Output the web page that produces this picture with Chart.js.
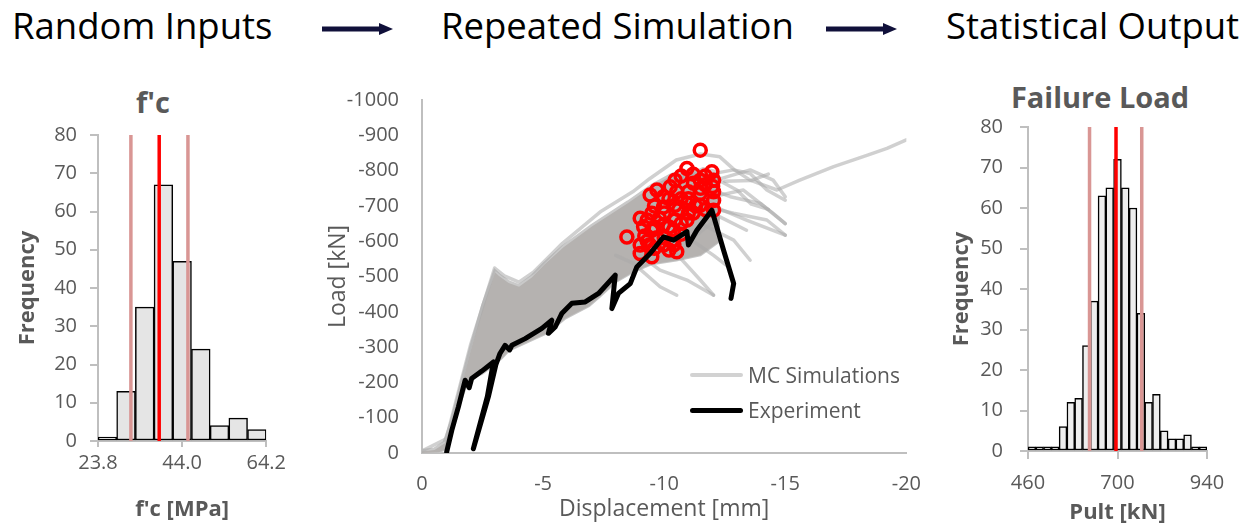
<!DOCTYPE html>
<html>
<head>
<meta charset="utf-8">
<title>Monte Carlo simulation of failure load</title>
<script src="https://cdn.jsdelivr.net/npm/chart.js@4.4.1/dist/chart.umd.min.js"></script>
<style>
    body { margin: 0; background: #fff; font-family: 'Open Sans', sans-serif; }
    #page { position: relative; width: 1257px; height: 527px; overflow: hidden; }
    canvas { position: absolute; }
    .step { position: absolute; top: 7px; font-size: 36.5px; line-height: 1; color: #000; white-space: nowrap; }
    .arrow { position: absolute; top: 22px; }
    .panel-title { position: absolute; font-size: 29px; font-weight: bold; line-height: 1; color: #595959; white-space: nowrap; transform: translateX(-50%); }
    .legend-item { position: absolute; left: 690px; height: 26px; display: flex; align-items: center; font-size: 21px; color: #595959; white-space: nowrap; }
    .legend-item .swatch { display: inline-block; width: 53px; margin-right: 5px; border-radius: 3px; }
</style>
</head>
<body>
<div id="page">
    <div class="step" style="left: 12px;">Random Inputs</div>
    <svg class="arrow" style="left: 322px;" width="72" height="14"><rect x="0" y="4.5" width="59" height="5" fill="#10103a"/><polygon points="57,1 71,7 57,13" fill="#10103a"/></svg>
    <div class="step" style="left: 441px;">Repeated Simulation</div>
    <svg class="arrow" style="left: 826px;" width="72" height="14"><rect x="0" y="4.5" width="59" height="5" fill="#10103a"/><polygon points="57,1 71,7 57,13" fill="#10103a"/></svg>
    <div class="step" style="left: 946px;">Statistical Output</div>

    <div class="panel-title" style="left: 153px; top: 87px;">f'c</div>
    <div class="panel-title" style="left: 1100px; top: 82px;">Failure Load</div>

    <canvas id="chart_fc" width="290" height="417" style="left: 0; top: 110px;"></canvas>
    <canvas id="chart_sim" width="630" height="462" style="left: 310px; top: 65px;"></canvas>
    <canvas id="chart_pult" width="317" height="429" style="left: 940px; top: 98px;"></canvas>

    <div class="legend-item" style="top: 362px;"><span class="swatch" style="height: 4px; background: #d2d2d2;"></span>MC Simulations</div>
    <div class="legend-item" style="top: 397px;"><span class="swatch" style="height: 5px; background: #000;"></span>Experiment</div>
</div>
<script>
// concrete strength histogram (200 samples)
const fcBinCenters = [26.04, 30.53, 35.02, 39.51, 44.0, 48.49, 52.98, 57.47, 61.96];
const fcCounts = [1, 13, 35, 67, 47, 24, 4, 6, 3];
const fcTicks = [23.8, 44.0, 64.2];
const fcMean = 38.5;
const fcSpread = [31.7, 45.4];

// ultimate load histogram (500 runs)
const pultBinCenters = [470.4, 491.3, 512.2, 533.0, 553.9, 574.8, 595.7, 616.5, 637.4, 658.3, 679.1, 700.0,
    720.9, 741.7, 762.6, 783.5, 804.3, 825.2, 846.1, 867.0, 887.8, 908.7, 929.6];
const pultCounts = [1, 1, 1, 1, 6, 12, 13, 26, 37, 63, 65, 72, 65, 60, 34, 12, 14, 5, 3, 3, 4, 1, 1];
const pultTicks = [460, 700, 940];
const pultMean = 696;
const pultSpread = [625, 765];

// load-displacement curves [displacement mm, load kN]
const dispTicks = [0, -5, -10, -15, -20];
const mcUpper = [[0, -8], [-0.5, -12], [-0.9, -30], [-1.2, -90], [-1.6, -195], [-2.0, -300], [-2.5, -420],
    [-3.0, -518], [-3.2, -505], [-3.6, -485], [-4.0, -475], [-4.5, -500], [-5.0, -535], [-5.8, -585],
    [-7.0, -645], [-8.5, -712], [-9.5, -760], [-10.3, -790], [-11.0, -800], [-12.3, -790]];
const mcLower = [[0, 0], [-0.7, -2], [-0.95, -10], [-1.16, -36], [-1.57, -140], [-1.91, -206], [-2.5, -225],
    [-2.9, -245], [-3.3, -268], [-3.6, -290], [-4.3, -312], [-5.2, -340], [-5.9, -380], [-6.9, -416],
    [-7.3, -440], [-8.0, -484], [-8.7, -512], [-9.5, -535], [-10.5, -545], [-11.5, -560], [-12.3, -600]];
const mcTails = [
    [[0, -6], [-1.0, -40], [-2.0, -305], [-3.0, -524], [-3.4, -502], [-4.0, -484], [-4.6, -512], [-5.8, -594],
        [-7.4, -685], [-8.7, -740], [-9.4, -777], [-10.5, -830], [-11.5, -847], [-12.3, -839], [-12.9, -802],
        [-13.55, -773], [-14.66, -745], [-15.6, -773], [-17.0, -811], [-18.4, -844], [-19.2, -863], [-20.0, -887]],
    [[-10.5, -770], [-11.6, -805], [-12.3, -795], [-12.87, -802], [-13.55, -792], [-14.24, -745], [-15.0, -716]],
    [[-10.8, -705], [-12.0, -745], [-12.73, -726], [-13.97, -707], [-15.0, -650]],
    [[-11.0, -655], [-12.2, -690], [-12.87, -679], [-14.24, -660], [-15.0, -617]],
    [[-11.2, -760], [-12.2, -775], [-13.0, -745], [-13.6, -705], [-14.3, -690]],
    [[-12.0, -770], [-13.55, -802], [-14.5, -773], [-15.0, -726]],
    [[-11.6, -720], [-13.27, -745], [-14.5, -679], [-15.0, -650]],
    [[-12.0, -700], [-13.4, -660], [-15.0, -617]],
    [[-10.0, -620], [-11.2, -600], [-12.04, -560], [-12.6, -530]],
    [[-11.5, -650], [-12.87, -603], [-13.55, -546]],
    [[-10.5, -565], [-11.49, -490], [-12.04, -447]],
    [[-8.0, -560], [-8.73, -537], [-9.83, -471], [-10.52, -447]],
    [[-9.0, -560], [-9.83, -518], [-10.94, -490], [-12.04, -447]],
    [[-11.0, -600], [-12.3, -669], [-13.4, -631]],
    [[-12.5, -770], [-13.6, -772], [-14.3, -790]]
];
const experiment = [[-1.02, -3], [-1.23, -64], [-1.5, -130], [-1.78, -206], [-1.95, -185], [-2.05, -211],
    [-2.47, -232], [-2.95, -258], [-2.7, -160], [-2.12, -12], [-2.74, -159], [-3.05, -250], [-3.22, -282],
    [-3.43, -305], [-3.62, -292], [-3.71, -305], [-4.26, -324], [-4.95, -353], [-5.36, -376], [-5.22, -339],
    [-5.5, -357], [-5.77, -395], [-6.19, -424], [-6.74, -428], [-7.29, -452], [-7.98, -504], [-7.84, -409],
    [-8.11, -452], [-8.6, -480], [-8.87, -527], [-9.42, -565], [-9.97, -612], [-10.39, -603], [-10.94, -627],
    [-11.0, -589], [-11.35, -631], [-11.97, -688], [-12.45, -575], [-12.87, -480], [-12.76, -438]];
// peak load of each simulation
const peakDisp = [-11.49, -10.94, -11.97, -10.45, -11.49, -12.04, -9.42, -9.97, -10.52, -11.49, -12.04,
    -9.01, -9.49, -9.97, -10.45, -10.94, -11.49, -12.04, -8.46, -9.01, -9.49, -9.97, -10.45, -10.94,
    -9.01, -9.49, -10.52, -9.97, -9.15, -10.39, -9.8, -11.21, -10.25, -11.2, -12.0, -10.7, -11.2, -12.04,
    -10.0, -9.3, -10.7, -11.0, -10.0, -10.7, -11.7, -11.7, -10.7, -9.6, -9.3, -9.7, -10.2, -10.2, -9.6, -11.0,
    -9.7, -10.2, -11.0, -11.5, -10.6, -9.2, -9.6, -10.3, -10.4, -9.4, -11.3, -11.7];
const peakLoad = [-858, -806, -797, -773, -773, -773, -731, -726, -740, -735, -740,
    -665, -679, -697, -702, -707, -702, -688, -612, -589, -631, -646, -660, -660,
    -565, -556, -570, -589, -641, -631, -665, -764, -754, -790, -755, -720, -680, -715,
    -610, -600, -620, -740, -680, -650, -690, -760, -785, -700, -660, -610, -640, -575, -580, -680,
    -745, -720, -720, -750, -690, -615, -640, -600, -590, -590, -700, -785];

const axisGray = '#bfbfbf';

Chart.defaults.font.family = "'Open Sans', sans-serif";
Chart.defaults.color = '#595959';
Chart.defaults.animation = false;
Chart.defaults.events = [];
Chart.defaults.plugins.legend.display = false;
Chart.defaults.plugins.tooltip.enabled = false;

function toPoints(pairs) {
    return pairs.map(p => ({x: p[0], y: p[1]}));
}

function verticalLine(x, color) {
    return {
        type: 'line',
        data: [{x: x, y: 0}, {x: x, y: 80}],
        borderColor: color,
        borderWidth: 3.5,
        pointRadius: 0,
        order: 0
    };
}

function createHistogram(opts) {
    new Chart(document.getElementById(opts.id), {
        type: 'bar',
        data: {
            datasets: [
                {
                    data: opts.centers.map((c, i) => ({x: c, y: opts.counts[i]})),
                    backgroundColor: opts.fill,
                    borderColor: '#000',
                    borderWidth: 1.5,
                    borderSkipped: false,
                    barPercentage: 1,
                    categoryPercentage: 1,
                    order: 1
                },
                verticalLine(opts.spread[0], '#d99694'),
                verticalLine(opts.spread[1], '#d99694'),
                verticalLine(opts.mean, '#ff0000')
            ]
        },
        options: {
            responsive: false,
            layout: {padding: opts.padding},
            scales: {
                x: {
                    type: 'linear',
                    min: opts.ticks[0],
                    max: opts.ticks[opts.ticks.length - 1],
                    offset: false,
                    afterBuildTicks: axis => { axis.ticks = opts.ticks.map(v => ({value: v})); },
                    afterFit: axis => { axis.height = opts.xHeight; },
                    ticks: {
                        font: {size: 20},
                        padding: opts.xPad,
                        maxRotation: 0,
                        autoSkip: false,
                        callback: v => opts.format(v)
                    },
                    grid: {drawOnChartArea: false, offset: false, tickLength: opts.xTick, color: axisGray, lineWidth: 2},
                    border: {color: axisGray, width: 2},
                    title: {display: true, text: opts.xTitle, font: {size: 22, weight: 'bold'}, padding: {top: 0, bottom: opts.xTitlePad}}
                },
                y: {
                    min: 0,
                    max: 80,
                    afterFit: axis => { axis.width = opts.yWidth; },
                    ticks: {stepSize: 10, font: {size: 20}, padding: opts.yPad},
                    grid: {drawOnChartArea: false, tickLength: 8, color: axisGray, lineWidth: 2},
                    border: {color: axisGray, width: 2},
                    title: {display: true, text: 'Frequency', font: {size: 22, weight: 'bold'}, padding: {top: opts.yTitlePad, bottom: 0}}
                }
            }
        }
    });
}

createHistogram({
    id: 'chart_fc',
    centers: fcBinCenters,
    counts: fcCounts,
    fill: '#e5e5e5',
    mean: fcMean,
    spread: fcSpread,
    ticks: fcTicks,
    format: v => v.toFixed(1),
    xTitle: "f'c [MPa]",
    padding: {top: 25, right: 19},
    xHeight: 86, xPad: 4, xTick: 6, xTitlePad: 4,
    yWidth: 98, yPad: 13, yTitlePad: 15
});

createHistogram({
    id: 'chart_pult',
    centers: pultBinCenters,
    counts: pultCounts,
    fill: '#eeeeee',
    mean: pultMean,
    spread: pultSpread,
    ticks: pultTicks,
    format: v => String(v),
    xTitle: 'Pult [kN]',
    padding: {top: 27, right: 50},
    xHeight: 76, xPad: 12, xTick: 8, xTitlePad: 1,
    yWidth: 88, yPad: 17, yTitlePad: 9
});

const tailDatasets = mcTails.map(curve => ({
    data: toPoints(curve),
    borderColor: 'rgba(170, 170, 170, 0.55)',
    borderWidth: 3.5,
    borderCapStyle: 'round',
    borderJoinStyle: 'round',
    pointRadius: 0,
    order: 3
}));

new Chart(document.getElementById('chart_sim'), {
    type: 'line',
    data: {
        datasets: [
            {
                label: 'Experiment',
                data: toPoints(experiment),
                borderColor: '#000',
                borderWidth: 5,
                borderCapStyle: 'round',
                borderJoinStyle: 'round',
                pointRadius: 0,
                order: 1
            },
            {
                label: 'Peak',
                data: peakDisp.map((d, i) => ({x: d, y: peakLoad[i]})),
                showLine: false,
                pointRadius: 6,
                pointBorderWidth: 3.5,
                pointBorderColor: '#ff0000',
                pointBackgroundColor: 'rgba(0, 0, 0, 0)',
                order: 2
            },
            ...tailDatasets,
            {
                label: 'MC Simulations',
                data: toPoints(mcUpper),
                fill: '+1',
                backgroundColor: '#b5b2b0',
                borderColor: '#c9c9c9',
                borderWidth: 2.5,
                pointRadius: 0,
                order: 4
            },
            {
                data: toPoints(mcLower),
                fill: false,
                borderColor: '#c6c6c6',
                borderWidth: 2,
                pointRadius: 0,
                order: 4
            }
        ]
    },
    options: {
        responsive: false,
        layout: {padding: {top: 25, right: 24}},
        scales: {
            x: {
                type: 'linear',
                min: -20,
                max: 0,
                reverse: true,
                afterBuildTicks: axis => { axis.ticks = dispTicks.map(v => ({value: v})); },
                afterFit: axis => { axis.height = 74; },
                ticks: {font: {size: 20}, padding: 19, maxRotation: 0, callback: v => String(v)},
                grid: {display: false, drawTicks: false},
                border: {color: axisGray, width: 2},
                title: {display: true, text: 'Displacement [mm]', font: {size: 23}, padding: {top: 0, bottom: 4}}
            },
            y: {
                min: -1000,
                max: 0,
                reverse: true,
                afterFit: axis => { axis.width = 112; },
                ticks: {stepSize: 100, font: {size: 20}, padding: 23, callback: v => String(v)},
                grid: {display: false, drawTicks: false},
                border: {color: axisGray, width: 2},
                title: {display: true, text: 'Load [kN]', font: {size: 23}, padding: {top: 15, bottom: 0}}
            }
        }
    }
});
</script>
</body>
</html>
